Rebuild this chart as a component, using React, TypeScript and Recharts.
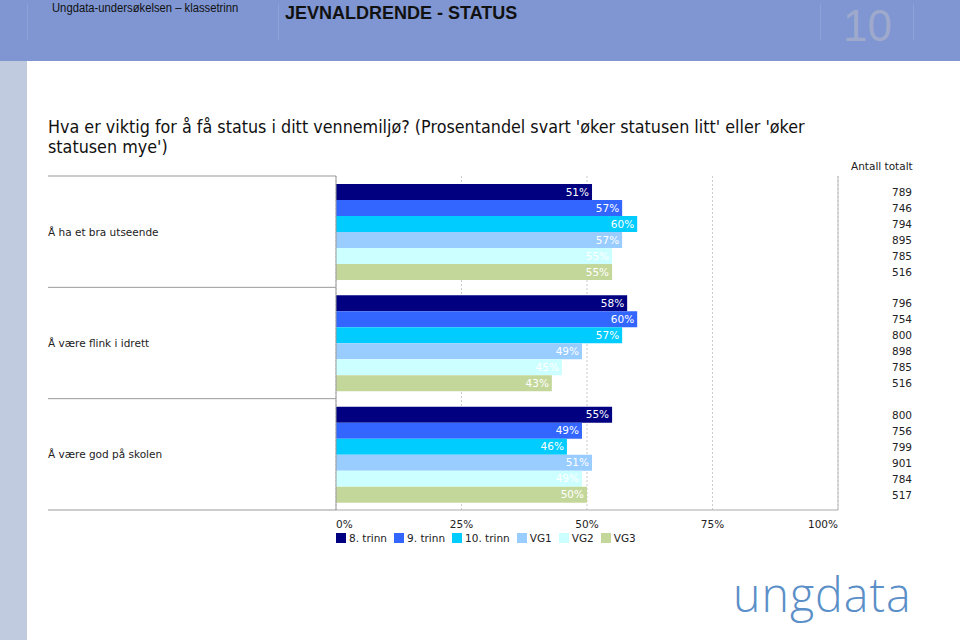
import React from 'react'
import { BarChart, Bar, XAxis, YAxis, CartesianGrid, ReferenceLine, LabelList } from 'recharts'

const categories = ['Å ha et bra utseende', 'Å være flink i idrett', 'Å være god på skolen']
const seriesNames = ['8. trinn', '9. trinn', '10. trinn', 'VG1', 'VG2', 'VG3']
const seriesColors = ['#000080', '#3366ff', '#00ccff', '#99ccff', '#ccffff', '#c4d79b']

// prosent som svarte 'øker litt' eller 'øker mye'
const trinn8 = [51, 58, 55]
const trinn9 = [57, 60, 49]
const trinn10 = [60, 57, 46]
const vg1 = [57, 49, 51]
const vg2 = [55, 45, 49]
const vg3 = [55, 43, 50]

// antall totalt
const n8 = [789, 796, 800]
const n9 = [746, 754, 756]
const n10 = [794, 800, 799]
const nVg1 = [895, 898, 901]
const nVg2 = [785, 785, 784]
const nVg3 = [516, 516, 517]

const xTicks = [0, 25, 50, 75, 100]

const values = [trinn8, trinn9, trinn10, vg1, vg2, vg3]
const counts = [n8, n9, n10, nVg1, nVg2, nVg3]

const data = categories.map((cat, i) => {
  const row: Record<string, string | number> = { cat }
  values.forEach((v, s) => { row['s' + s] = v[i] })
  counts.forEach((n, s) => { row['n' + s] = n[i] })
  return row
})

const FONT = '"DejaVu Sans", Verdana, sans-serif'
const ARIAL = '"Liberation Sans", Arial, sans-serif'
const W = 960
const H = 560
const M = { top: 176, right: 122, bottom: 30, left: 48 }
const Y_W = 288
const X_H = 20
const PLOT_W = W - M.left - M.right - Y_W
const PLOT_H = H - M.top - M.bottom - X_H
const BAND = PLOT_H / categories.length

function CatTick(props: any) {
  const { y, payload, index } = props
  const x0 = M.left
  const x1 = M.left + Y_W
  return (
    <g>
      {index === 0 && <line x1={x0} x2={x1} y1={y - BAND / 2} y2={y - BAND / 2} stroke="#999" />}
      <line x1={x0} x2={x1} y1={y + BAND / 2} y2={y + BAND / 2} stroke="#999" />
      <text x={x0} y={y} dy={4} fontSize={10.5} fill="#222" fontFamily={FONT}>{payload.value}</text>
    </g>
  )
}

function PctTick(props: any) {
  const { x, y, payload, index } = props
  const anchor = index === 0 ? 'start' : index === xTicks.length - 1 ? 'end' : 'middle'
  return (
    <text x={x} y={y} dy={10} textAnchor={anchor} fontSize={10.5} fill="#222" fontFamily={FONT}>
      {payload.value}%
    </text>
  )
}

function CountLabel(props: any) {
  const { x, y, height, value } = props
  return (
    <text x={x + PLOT_W + 74} y={y + height / 2} dy={4} textAnchor="end" fontSize={10.5} fill="#222" fontFamily={FONT}>
      {value}
    </text>
  )
}

export default function App() {
  return (
    <div style={{ position: 'absolute', left: 0, top: 0, width: 960, height: 640, overflow: 'hidden', background: '#fff' }}>
      {/* topp-banner */}
      <div style={{ position: 'absolute', left: 0, top: 0, width: 960, height: 61, background: '#7f96d2' }} />
      <div style={{ position: 'absolute', left: 0, top: 61, width: 27, height: 579, background: '#c0cbe0' }} />
      {[27, 278, 820, 913].map((x) => (
        <div key={x} style={{ position: 'absolute', left: x, top: 4, width: 1, height: 36, background: '#8ea2d8' }} />
      ))}
      <div style={{ position: 'absolute', left: 52, top: 1, lineHeight: '14px', fontFamily: ARIAL, fontSize: 12.5, color: '#111', transform: 'scaleX(0.9)', transformOrigin: 'left', whiteSpace: 'nowrap' }}>
        Ungdata-undersøkelsen – klassetrinn
      </div>
      <div style={{ position: 'absolute', left: 285, top: 3, lineHeight: '20px', fontFamily: ARIAL, fontSize: 18, fontWeight: 'bold', color: '#111' }}>
        JEVNALDRENDE - STATUS
      </div>
      <svg style={{ position: 'absolute', left: 830, top: 0 }} width={80} height={61}>
        <text x={13} y={41} fontFamily={ARIAL} fontSize={44} fill="#9ea9cc">10</text>
      </svg>

      {/* tittel */}
      <div style={{ position: 'absolute', left: 48, top: 117, fontFamily: FONT, fontSize: 17, lineHeight: '20px', color: '#111', transform: 'scaleX(0.94)', transformOrigin: 'left', whiteSpace: 'nowrap' }}>
        Hva er viktig for å få status i ditt vennemiljø? (Prosentandel svart 'øker statusen litt' eller 'øker
        <br />
        statusen mye')
      </div>

      <div style={{ position: 'absolute', left: 851, top: 160, fontFamily: FONT, fontSize: 10.5, color: '#222' }}>Antall totalt</div>

      <div style={{ position: 'absolute', left: 0, top: 0 }}>
        <BarChart
          width={W}
          height={H}
          data={data}
          layout="vertical"
          margin={M}
          barCategoryGap={8}
          barGap={0}
        >
          <CartesianGrid horizontal={false} strokeDasharray="2 2" stroke="#cccccc" />
          <XAxis
            type="number"
            domain={[0, 100]}
            ticks={xTicks}
            tick={<PctTick />}
            tickLine={false}
            axisLine={{ stroke: '#aaa' }}
            height={X_H}
          />
          <XAxis
            xAxisId="top"
            orientation="top"
            type="number"
            domain={[0, 100]}
            tick={false}
            tickLine={false}
            axisLine={{ stroke: '#999' }}
            height={0}
          />
          <YAxis
            type="category"
            dataKey="cat"
            width={Y_W}
            tick={<CatTick />}
            tickLine={false}
            axisLine={{ stroke: '#999' }}
          />
          <ReferenceLine x={100} stroke="#bbb" />
          {seriesNames.map((name, s) => (
            <Bar key={name} dataKey={'s' + s} name={name} fill={seriesColors[s]} isAnimationActive={false}>
              <LabelList
                dataKey={'s' + s}
                position="insideRight"
                offset={3}
                fill="#fff"
                fontSize={10.5}
                fontFamily={FONT}
                formatter={(v: any) => v + '%'}
              />
              <LabelList dataKey={'n' + s} content={<CountLabel />} />
            </Bar>
          ))}
        </BarChart>
      </div>

      {/* forklaring */}
      <div style={{ position: 'absolute', left: 336, top: 532, display: 'flex', fontFamily: FONT, fontSize: 10.5, color: '#222' }}>
        {seriesNames.map((name, s) => (
          <div key={name} style={{ display: 'flex', alignItems: 'center', marginRight: 7 }}>
            <span style={{ width: 10, height: 10, background: seriesColors[s], marginRight: 3, display: 'inline-block' }} />
            {name}
          </div>
        ))}
      </div>

      {/* logo */}
      <div style={{ position: 'absolute', left: 733, top: 570, lineHeight: '48px', fontFamily: '"Open Sans", sans-serif', fontWeight: 300, fontSize: 48, letterSpacing: 1, color: '#5b8fc8', transform: 'scaleX(0.97)', transformOrigin: 'left', whiteSpace: 'nowrap' }}>
        ungdata
      </div>
    </div>
  )
}
